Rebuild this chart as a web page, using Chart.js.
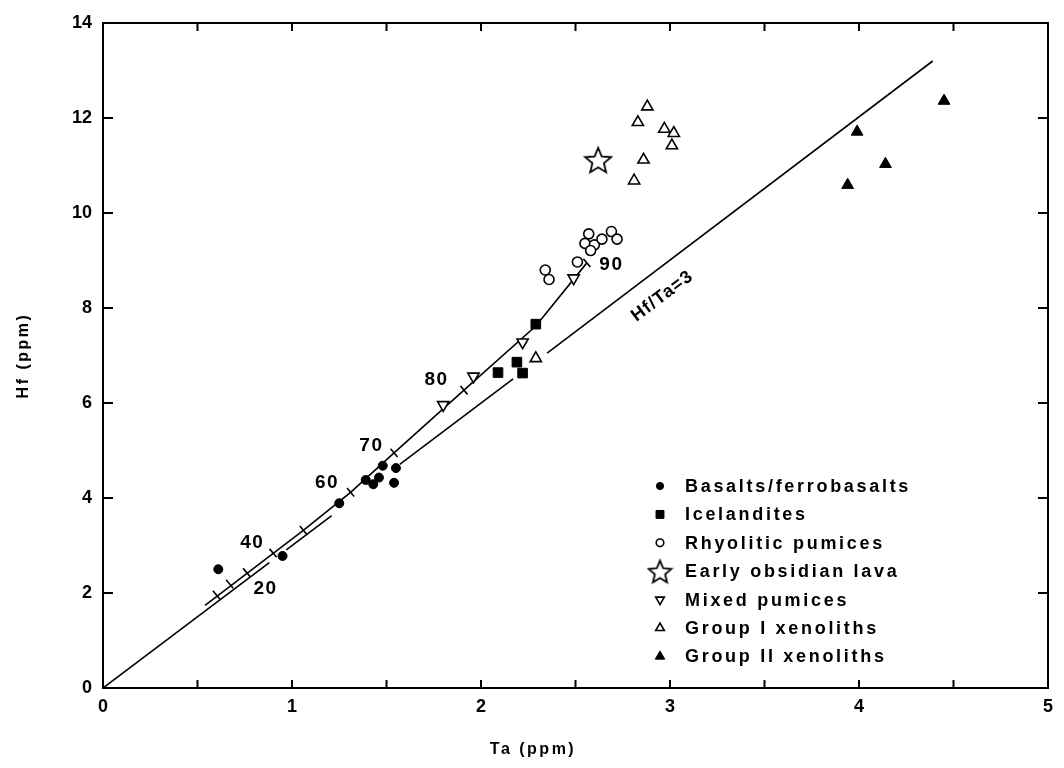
<!DOCTYPE html>
<html>
<head>
<meta charset="utf-8">
<script src="https://cdn.jsdelivr.net/npm/chart.js@4.4.0/dist/chart.umd.min.js"></script>
<style>
  html, body { margin: 0; padding: 0; background: #fff; }
</style>
</head>
<body>
<canvas id="chart" width="1064" height="768"></canvas>
<script>
// Values: Ta (ppm) on x, Hf (ppm) on y
const basaltTa = [0.61, 0.95, 1.25, 1.39, 1.43, 1.46, 1.48, 1.55, 1.54];
const basaltHf = [2.50, 2.78, 3.89, 4.38, 4.29, 4.43, 4.68, 4.63, 4.32];

const icelTa = [2.09, 2.19, 2.22, 2.29];
const icelHf = [6.64, 6.86, 6.63, 7.66];

const rhyoTa = [2.34, 2.36, 2.51, 2.57, 2.55, 2.60, 2.58, 2.64, 2.69, 2.72];
const rhyoHf = [8.80, 8.60, 8.97, 9.56, 9.36, 9.33, 9.21, 9.45, 9.61, 9.45];

const obsTa = [2.62];
const obsHf = [11.12];

const mixedTa = [1.80, 1.96, 2.22, 2.49];
const mixedHf = [5.96, 6.56, 7.28, 8.63];

const grp1Ta = [2.29, 2.88, 2.83, 2.97, 3.02, 3.01, 2.86, 2.81];
const grp1Hf = [6.94, 12.24, 11.91, 11.77, 11.68, 11.42, 11.12, 10.68];

const grp2Ta = [4.45, 3.99, 4.14, 3.94];
const grp2Hf = [12.36, 11.71, 11.03, 10.59];

// Hf/Ta = 3 reference line, broken where it passes the symbols (null = gap)
const refTa = [0, 0.88, null, 0.97, 1.21, null, 1.57, 2.17, null, 2.35, 4.39];
const refHf = [0, 2.64, null, 2.91, 3.63, null, 4.71, 6.51, null, 7.05, 13.2];

// fractional crystallisation curve and its tick marks
const fracTa = [0.54, 1.06, 1.31, 1.54, 1.91, 2.29, 2.56];
const fracHf = [1.74, 3.32, 4.12, 4.95, 6.27, 7.62, 8.95];
const fracTickTa = [0.60, 0.67, 0.76, 0.90, 1.06, 1.31, 1.54, 1.91, 2.56];
const fracTickHf = [1.96, 2.19, 2.43, 2.84, 3.32, 4.12, 4.95, 6.27, 8.95];

const fracLabels = ['20', '40', '60', '70', '80', '90'];
const fracLabelTa = [0.86, 0.79, 1.185, 1.42, 1.765, 2.69];
const fracLabelHf = [2.08, 3.05, 4.33, 5.10, 6.48, 8.90];

const xTicks = [0, 1, 2, 3, 4, 5];
const yTicks = [0, 2, 4, 6, 8, 10, 12, 14];

const FONT = '"Liberation Sans", Arial, sans-serif';

const pts = (xs, ys) => xs.map((x, i) => ({ x: x === null ? xs[i - 1] : x, y: ys[i] }));

function makeStar(size) {
    const c = document.createElement('canvas');
    c.width = c.height = size;
    const g = c.getContext('2d');
    const cx = size / 2, cy = size / 2 + size * 0.05;
    const R = size / 2 - 1.5, r = R * 0.45;
    g.beginPath();
    for (let i = 0; i < 10; i++) {
        const a = -Math.PI / 2 + i * Math.PI / 5;
        const rr = i % 2 ? r : R;
        g.lineTo(cx + rr * Math.cos(a), cy + rr * Math.sin(a));
    }
    g.closePath();
    g.fillStyle = '#fff';
    g.fill();
    g.lineWidth = 1.8;
    g.strokeStyle = '#000';
    g.stroke();
    return c;
}
const starImg = makeStar(30);
const starLegend = makeStar(27);

// frame with inward ticks on all four sides
const framePlugin = {
    id: 'frame',
    afterDraw(chart) {
        const { ctx, chartArea: a, scales } = chart;
        ctx.save();
        ctx.strokeStyle = '#000';
        ctx.lineWidth = 2;
        ctx.strokeRect(a.left, a.top, a.right - a.left, a.bottom - a.top);
        scales.x.ticks.forEach(t => {
            const px = scales.x.getPixelForValue(t.value);
            ctx.beginPath();
            ctx.moveTo(px, a.bottom); ctx.lineTo(px, a.bottom - 8);
            ctx.moveTo(px, a.top); ctx.lineTo(px, a.top + 8);
            ctx.stroke();
        });
        scales.y.ticks.forEach(t => {
            const py = scales.y.getPixelForValue(t.value);
            ctx.beginPath();
            ctx.moveTo(a.left, py); ctx.lineTo(a.left + 10, py);
            ctx.moveTo(a.right, py); ctx.lineTo(a.right - 10, py);
            ctx.stroke();
        });
        ctx.restore();
    }
};

// curve labels, line label, axis titles
const textPlugin = {
    id: 'texts',
    afterDraw(chart) {
        const { ctx, scales: { x, y }, chartArea: a } = chart;
        ctx.save();
        ctx.fillStyle = '#000';
        ctx.textAlign = 'center';
        ctx.textBaseline = 'middle';
        ctx.letterSpacing = '1.5px';
        ctx.font = 'bold 19px ' + FONT;
        fracLabels.forEach((s, i) => {
            ctx.fillText(s, x.getPixelForValue(fracLabelTa[i]), y.getPixelForValue(fracLabelHf[i]));
        });

        const ang = Math.atan2(y.getPixelForValue(3) - y.getPixelForValue(0),
                               x.getPixelForValue(1) - x.getPixelForValue(0));
        ctx.save();
        ctx.translate(x.getPixelForValue(2.96), y.getPixelForValue(8.25));
        ctx.rotate(ang);
        ctx.font = 'bold 18px ' + FONT;
        ctx.letterSpacing = '1.2px';
        ctx.fillText('Hf/Ta=3', 0, 0);
        ctx.restore();

        ctx.font = 'bold 16px ' + FONT;
        ctx.letterSpacing = '2.5px';
        ctx.fillText('Ta (ppm)', 533, 750);
        ctx.save();
        ctx.translate(24, (a.top + a.bottom) / 2);
        ctx.rotate(-Math.PI / 2);
        ctx.fillText('Hf (ppm)', 0, 0);
        ctx.restore();
        ctx.restore();
    }
};

// legend inside the plot, lower right
const legendPlugin = {
    id: 'inlegend',
    afterDraw(chart) {
        const ctx = chart.ctx;
        const items = chart.data.datasets.filter(d => d.legendRadius);
        ctx.save();
        ctx.textBaseline = 'middle';
        ctx.textAlign = 'left';
        ctx.font = 'bold 18px ' + FONT;
        ctx.letterSpacing = '2.7px';
        items.forEach((d, i) => {
            const yy = 486 + i * 28.4;
            ctx.fillStyle = d.backgroundColor;
            ctx.strokeStyle = d.borderColor;
            ctx.lineWidth = d.borderWidth;
            Chart.helpers.drawPoint(ctx, {
                pointStyle: d.legendStyle || d.pointStyle,
                rotation: d.rotation || 0,
                radius: d.legendRadius,
                borderWidth: d.borderWidth
            }, 660, yy);
            ctx.fillStyle = '#000';
            ctx.fillText(d.label, 685, yy + 1);
        });
        ctx.restore();
    }
};

const tickFont = { family: FONT, size: 18, weight: 'bold' };

new Chart(document.getElementById('chart'), {
    type: 'scatter',
    data: {
        datasets: [
            { label: 'Basalts/ferrobasalts', data: pts(basaltTa, basaltHf), pointStyle: 'circle',
              backgroundColor: '#000', borderColor: '#000', borderWidth: 1, pointRadius: 4.5, legendRadius: 3.6 },
            { label: 'Icelandites', data: pts(icelTa, icelHf), pointStyle: 'rect',
              backgroundColor: '#000', borderColor: '#000', borderWidth: 1, pointRadius: 6.8, legendRadius: 5.6 },
            { label: 'Rhyolitic pumices', data: pts(rhyoTa, rhyoHf), pointStyle: 'circle',
              backgroundColor: '#fff', borderColor: '#000', borderWidth: 1.6, pointRadius: 5, legendRadius: 3.8 },
            { label: 'Early obsidian lava', data: pts(obsTa, obsHf), pointStyle: starImg, legendStyle: starLegend,
              backgroundColor: '#fff', borderColor: '#000', borderWidth: 1, pointRadius: 15, legendRadius: 14 },
            { label: 'Mixed pumices', data: pts(mixedTa, mixedHf), pointStyle: 'triangle', rotation: 180,
              backgroundColor: '#fff', borderColor: '#000', borderWidth: 1.6, pointRadius: 6.5, legendRadius: 5 },
            { label: 'Group I xenoliths', data: pts(grp1Ta, grp1Hf), pointStyle: 'triangle',
              backgroundColor: '#fff', borderColor: '#000', borderWidth: 1.6, pointRadius: 6.5, legendRadius: 5 },
            { label: 'Group II xenoliths', data: pts(grp2Ta, grp2Hf), pointStyle: 'triangle',
              backgroundColor: '#000', borderColor: '#000', borderWidth: 1, pointRadius: 6.8, legendRadius: 5.5 },
            { type: 'line', label: 'Hf/Ta=3', data: pts(refTa, refHf), borderColor: '#000', borderWidth: 1.6,
              pointRadius: 0, spanGaps: false, tension: 0, fill: false },
            { type: 'line', label: 'fractionation', data: pts(fracTa, fracHf), borderColor: '#000', borderWidth: 1.6,
              pointRadius: 0, tension: 0, fill: false },
            { label: 'ticks', data: pts(fracTickTa, fracTickHf), pointStyle: 'line', rotation: 50,
              borderColor: '#000', backgroundColor: '#000', borderWidth: 1.6, pointRadius: 5.5 }
        ]
    },
    options: {
        responsive: false,
        animation: false,
        devicePixelRatio: 1,
        events: [],
        layout: { padding: { left: 0, top: 23, right: 10, bottom: 0 } },
        plugins: { legend: { display: false }, tooltip: { enabled: false } },
        scales: {
            x: {
                type: 'linear', min: 0, max: 5,
                afterFit: s => { s.height = 80; },
                afterBuildTicks: s => {
                    s.ticks = [];
                    xTicks.forEach((v, i) => {
                        s.ticks.push({ value: v });
                        if (i < xTicks.length - 1) s.ticks.push({ value: (v + xTicks[i + 1]) / 2 });
                    });
                },
                ticks: { font: tickFont, color: '#000', padding: 8, maxRotation: 0,
                         callback: v => (xTicks.includes(v) ? String(v) : '') },
                grid: { display: false, drawTicks: false },
                border: { display: false }
            },
            y: {
                type: 'linear', min: 0, max: 14,
                afterFit: s => { s.width = 103; },
                afterBuildTicks: s => { s.ticks = yTicks.map(v => ({ value: v })); },
                ticks: { font: tickFont, color: '#000', padding: 11 },
                grid: { display: false, drawTicks: false },
                border: { display: false }
            }
        }
    },
    plugins: [framePlugin, textPlugin, legendPlugin]
});
</script>
</body>
</html>
